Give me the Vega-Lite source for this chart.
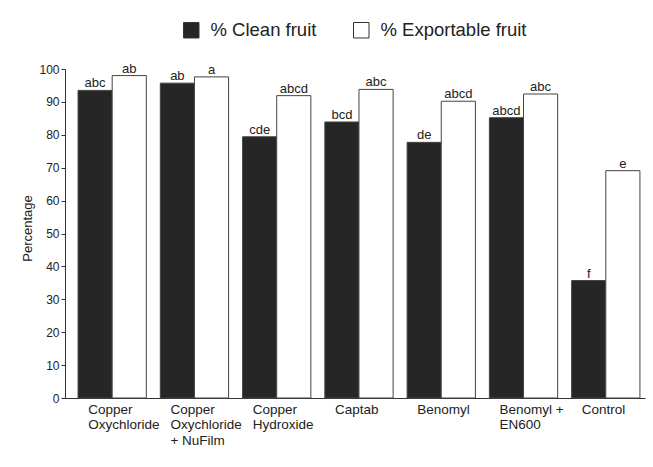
{
  "$schema": "https://vega.github.io/schema/vega-lite/v6.json",
  "width": 580,
  "height": 329,
  "autosize": {"type": "none"},
  "padding": {"left": 65, "top": 69, "right": 8, "bottom": 69},
  "background": "#ffffff",
  "config": {
    "font": "Liberation Sans",
    "view": {"stroke": null},
    "axis": {"domainColor": "#333333", "tickColor": "#333333", "labelColor": "#222222", "titleColor": "#222222", "grid": false}
  },
  "data": {
    "values": [
      {"treatment": "Copper|Oxychloride", "series": "% Clean fruit", "value": 93.5, "letters": "abc"},
      {"treatment": "Copper|Oxychloride", "series": "% Exportable fruit", "value": 98.0, "letters": "ab"},
      {"treatment": "Copper|Oxychloride|+ NuFilm", "series": "% Clean fruit", "value": 95.7, "letters": "ab"},
      {"treatment": "Copper|Oxychloride|+ NuFilm", "series": "% Exportable fruit", "value": 97.6, "letters": "a"},
      {"treatment": "Copper|Hydroxide", "series": "% Clean fruit", "value": 79.4, "letters": "cde"},
      {"treatment": "Copper|Hydroxide", "series": "% Exportable fruit", "value": 91.9, "letters": "abcd"},
      {"treatment": "Captab", "series": "% Clean fruit", "value": 83.9, "letters": "bcd"},
      {"treatment": "Captab", "series": "% Exportable fruit", "value": 93.8, "letters": "abc"},
      {"treatment": "Benomyl", "series": "% Clean fruit", "value": 77.7, "letters": "de"},
      {"treatment": "Benomyl", "series": "% Exportable fruit", "value": 90.2, "letters": "abcd"},
      {"treatment": "Benomyl +|EN600", "series": "% Clean fruit", "value": 85.2, "letters": "abcd"},
      {"treatment": "Benomyl +|EN600", "series": "% Exportable fruit", "value": 92.4, "letters": "abc"},
      {"treatment": "Control", "series": "% Clean fruit", "value": 35.7, "letters": "f"},
      {"treatment": "Control", "series": "% Exportable fruit", "value": 69.1, "letters": "e"}
    ]
  },
  "encoding": {
    "x": {
      "field": "treatment",
      "type": "nominal",
      "sort": null,
      "scale": {"paddingInner": 0.17, "paddingOuter": 0.11, "align": 0.72},
      "axis": {
        "title": null,
        "ticks": false,
        "labelAngle": 0,
        "labelExpr": "split(datum.label, '|')",
        "labelFontSize": 13.5,
        "labelLineHeight": 15.5,
        "labelPadding": 4,
        "labelAlign": "left",
        "labelOffset": -24,
        "labelBaseline": "top",
        "domainWidth": 1
      }
    },
    "xOffset": {"field": "series", "type": "nominal", "scale": {"paddingInner": 0, "paddingOuter": 0}},
    "y": {
      "field": "value",
      "type": "quantitative",
      "scale": {"domain": [0, 100], "nice": false},
      "axis": {
        "title": "Percentage",
        "values": [0, 10, 20, 30, 40, 50, 60, 70, 80, 90, 100],
        "tickSize": 4,
        "labelPadding": 2,
        "labelFontSize": 12,
        "titleFontSize": 13,
        "titleFontWeight": "normal",
        "titleX": -38,
        "titleY": 159,
        "titleAngle": -90,
        "titleAlign": "center",
        "titleBaseline": "middle",
        "domainWidth": 1
      }
    }
  },
  "layer": [
    {
      "mark": {"type": "bar", "stroke": "#444444", "strokeWidth": 1},
      "encoding": {
        "color": {
          "field": "series",
          "type": "nominal",
          "scale": {"domain": ["% Clean fruit", "% Exportable fruit"], "range": ["#262626", "#ffffff"]},
          "legend": {
            "title": null,
            "orient": "none",
            "direction": "horizontal",
            "legendX": 117,
            "legendY": -48,
            "symbolType": "square",
            "symbolSize": 240,
            "symbolStrokeColor": "#333333",
            "symbolStrokeWidth": 1,
            "labelFontSize": 18.5,
            "labelColor": "#222222",
            "labelOffset": 10,
            "columnPadding": 34,
            "padding": 0
          }
        }
      }
    },
    {
      "mark": {"type": "text", "baseline": "alphabetic", "dy": -3, "fontSize": 13, "color": "#222222"},
      "encoding": {"text": {"field": "letters"}}
    }
  ]
}
